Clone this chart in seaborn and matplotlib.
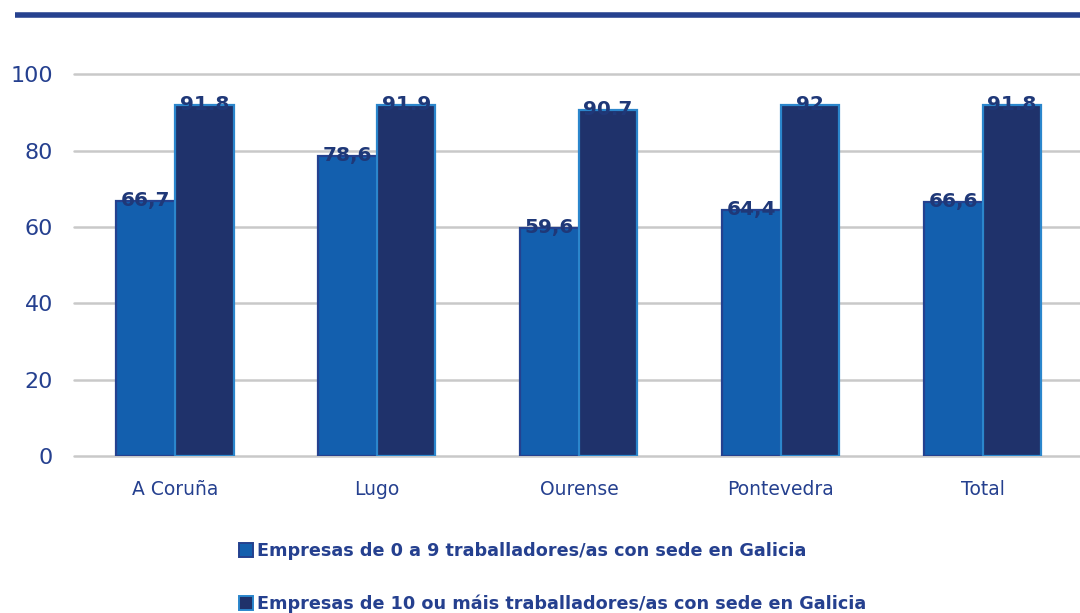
import matplotlib
matplotlib.use("Agg")
import matplotlib.pyplot as plt
from matplotlib.patches import Patch
from matplotlib.lines import Line2D
import seaborn as sns
import pandas as pd

# Share of companies (%) by province and company size
provinces = ["A Coruña", "Lugo", "Ourense", "Pontevedra", "Total"]
small_firms = [66.7, 78.6, 59.6, 64.4, 66.6]
large_firms = [91.8, 91.9, 90.7, 92.0, 91.8]
small_labels = ["66,7", "78,6", "59,6", "64,4", "66,6"]
large_labels = ["91.8", "91.9", "90.7", "92", "91.8"]
series_names = [
    "Empresas de 0 a 9 traballadores/as con sede en Galicia",
    "Empresas de 10 ou máis traballadores/as con sede en Galicia",
]
y_ticks = [0, 20, 40, 60, 80, 100]

face_colors = ["#135FAE", "#1F326B"]
edge_colors = ["#24418F", "#2B86CC"]
text_blue = "#25408F"
label_navy = "#1F3878"

df = pd.DataFrame({
    "provincia": provinces * 2,
    "valor": small_firms + large_firms,
    "serie": [series_names[0]] * len(provinces) + [series_names[1]] * len(provinces),
})

sns.set_theme(style="white")
plt.rcParams["font.family"] = ["DejaVu Sans"]

fig = plt.figure(figsize=(10.8, 6.13), dpi=100)
ax = fig.add_axes([0.0685, 0.256, 0.935, 0.623])

sns.barplot(data=df, x="provincia", y="valor", hue="serie", order=provinces,
            hue_order=series_names, palette=face_colors, width=0.58,
            saturation=1, ax=ax, legend=False, zorder=3)

for cont, ec, labels in zip(ax.containers, edge_colors, [small_labels, large_labels]):
    for patch, lab in zip(cont, labels):
        patch.set_edgecolor(ec)
        patch.set_linewidth(1.6)
        x = patch.get_x() + patch.get_width() / 2
        h = patch.get_height()
        ax.annotate(lab, (x, h), xytext=(0, -3.5), textcoords="offset points",
                    ha="center", va="baseline", fontsize=14.5, fontweight="bold",
                    color=label_navy, zorder=5, annotation_clip=False)

ax.set_xlim(-0.5, 4.5)
ax.set_ylim(0, 100)
ax.set_yticks(y_ticks)
ax.yaxis.grid(True, color="#C9C9C9", linewidth=1.8, zorder=0)
for gl in ax.get_ygridlines():
    gl.set_clip_on(False)
ax.xaxis.grid(False)
ax.set_axisbelow(True)
for s in ax.spines.values():
    s.set_visible(False)
ax.set_xlabel("")
ax.set_ylabel("")
ax.tick_params(axis="y", labelsize=16, labelcolor=text_blue, length=0, pad=15)
ax.tick_params(axis="x", labelsize=13.5, labelcolor=text_blue, length=0, pad=17.5)

# Heading rule across the top
fig.add_artist(Line2D([15 / 1080, 1.0], [1 - 15 / 613, 1 - 15 / 613],
                      color="#26418F", linewidth=4, solid_capstyle="butt"))

handles = [Patch(facecolor=fc, edgecolor=ec, linewidth=1.4)
           for fc, ec in zip(face_colors, edge_colors)]
leg = fig.legend(handles, series_names, loc="upper left",
                 bbox_to_anchor=(232 / 1080, 1 - 535 / 613), frameon=False,
                 handlelength=0.8, handleheight=0.9, handletextpad=0.2,
                 labelspacing=1.95, borderaxespad=0,
                 prop={"size": 12.7, "weight": "bold"})
for t in leg.get_texts():
    t.set_color(text_blue)

fig.savefig("out.png", dpi=100)
